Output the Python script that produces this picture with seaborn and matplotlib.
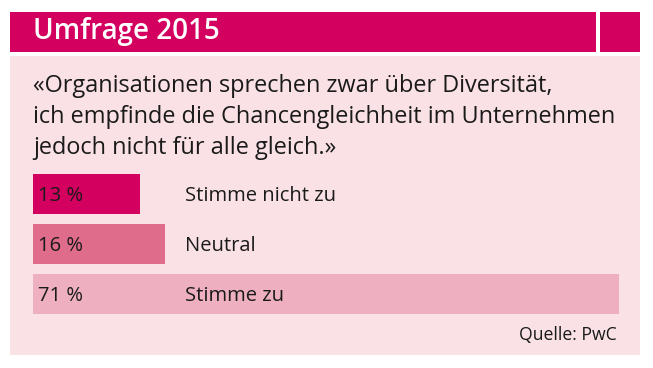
import matplotlib
matplotlib.use("Agg")
import matplotlib.pyplot as plt
import seaborn as sns
import pandas as pd
from matplotlib.patches import Rectangle

# data
answers = ["Stimme nicht zu", "Neutral", "Stimme zu"]
shares = [13, 16, 71]
title = "Umfrage 2015"
quote = ("«Organisationen sprechen zwar über Diversität,\n"
         "ich empfinde die Chancengleichheit im Unternehmen\n"
         "jedoch nicht für alle gleich.»")
source = "Quelle: PwC"

magenta = "#D4005F"
palette = ["#D4005F", "#E06C8C", "#EEB0C0"]
panel = "#F9E1E6"
ink = "#1a1a1a"

sns.set_style("white")
plt.rcParams["font.family"] = ["Open Sans", "DejaVu Sans"]

W, H = 653, 368
fig = plt.figure(figsize=(W / 100, H / 100), dpi=100)
fig.patch.set_facecolor("white")

def px(x, y, w, h):
    # pixel box (top-left origin) -> figure fraction
    return (x / W, 1 - (y + h) / H, w / W, h / H)

# header bars and panel (behind the axes)
for box, col in [((10, 12, 586, 40), magenta), ((600, 12, 40, 40), magenta),
                 ((10, 56, 630, 299), panel)]:
    x0, y0, w, h = px(*box)
    fig.patches.append(Rectangle((x0, y0), w, h, transform=fig.transFigure,
                                 facecolor=col, edgecolor="none", zorder=-5))

fig.text(33 / W, 1 - 32 / H, title, color="white", fontsize=20,
         fontweight="semibold", va="center", ha="left")
fig.text(33 / W, 1 - 117 / H, quote, color=ink, fontsize=16.9,
         va="center", ha="left", linespacing=1.4)
fig.text(617 / W, 1 - 335 / H, source, color=ink, fontsize=12.7,
         va="center", ha="right")

# bars
ppu = 8.25  # pixels per percent
xmax = 72
ax = fig.add_axes(px(33, 169, xmax * ppu, 150))
df = pd.DataFrame({"answer": answers, "share": shares})
sns.barplot(data=df, x="share", y="answer", hue="answer", palette=palette,
            legend=False, width=0.8, ax=ax, saturation=1, linewidth=0,
            edgecolor="none")
ax.set_xlim(0, xmax)
ax.set_ylim(2.5, -0.5)
ax.axis("off")
ax.patch.set_alpha(0)

for i, (a, v) in enumerate(zip(answers, shares)):
    ax.annotate(f"{v} %", xy=(0, i), xytext=(3.6, -1.5), textcoords="offset points",
                va="center", ha="left", fontsize=14.5, color=ink)
    ax.annotate(a, xy=(0, i), xytext=(109.5, -1.5), textcoords="offset points",
                va="center", ha="left", fontsize=14.5, color=ink)

fig.savefig("out.png", dpi=100)
